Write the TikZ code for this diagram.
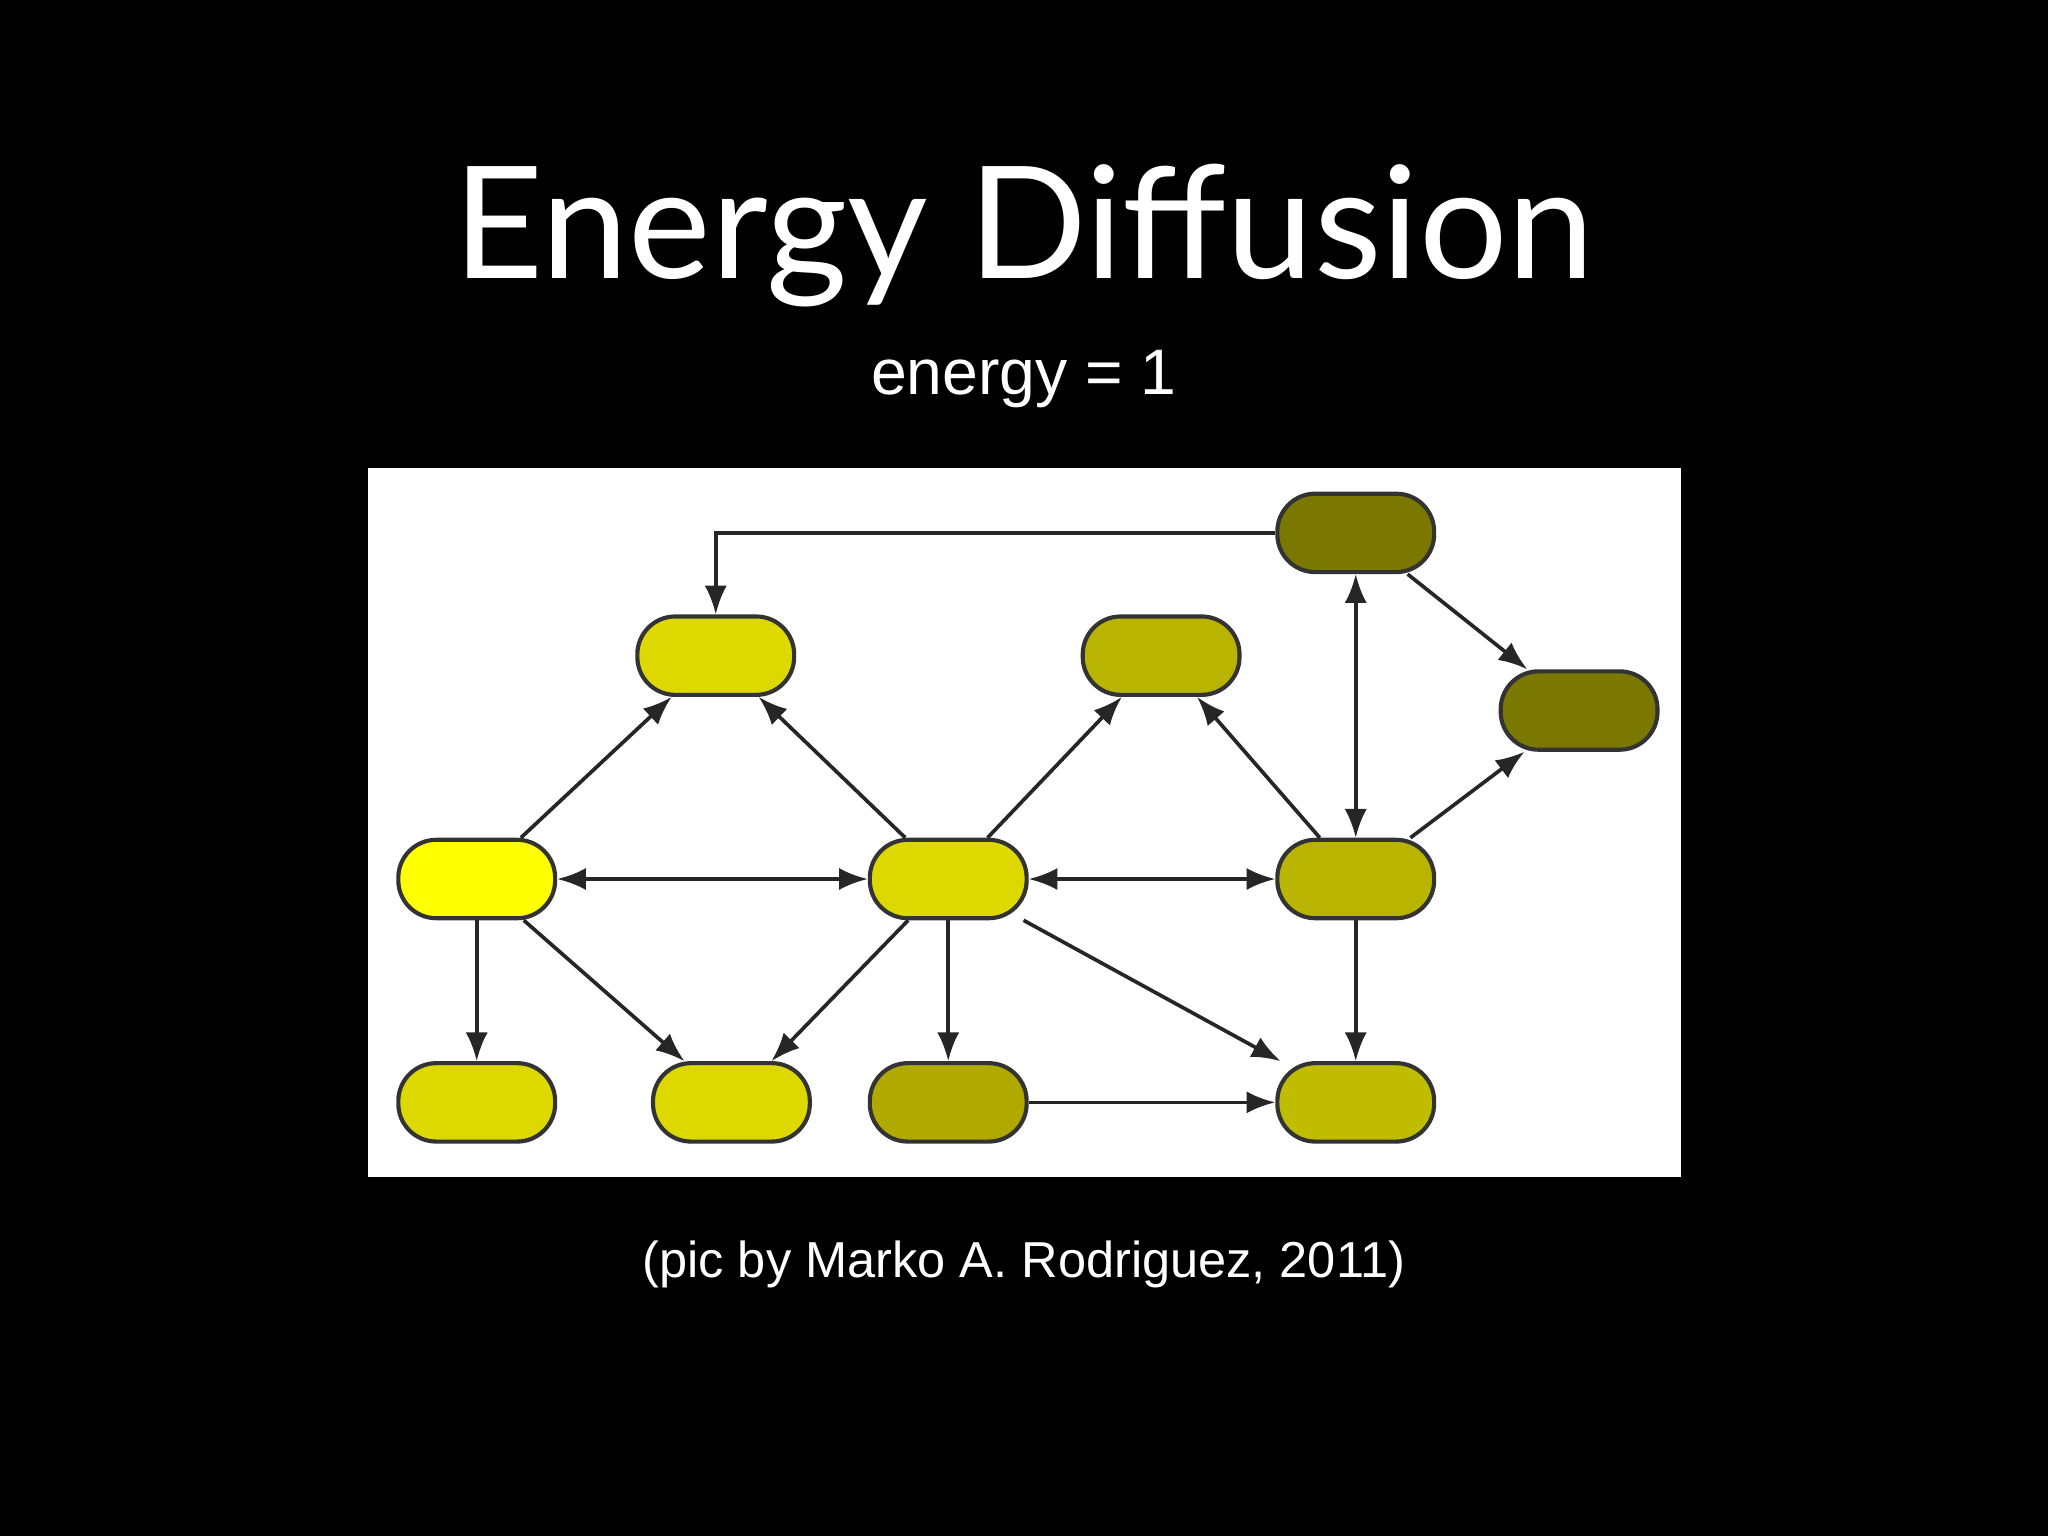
\documentclass[tikz,border=0pt]{standalone}
\usepackage{fontspec}
\setmainfont{Liberation Sans}
\newfontfamily\titlefont{Lato}
\usetikzlibrary{arrows.meta}
\definecolor{cA}{HTML}{7A7800}
\definecolor{cB}{HTML}{DCD800}
\definecolor{cC}{HTML}{B8B400}
\definecolor{cE}{HTML}{FFFF00}
\definecolor{cJ}{HTML}{B0AA00}
\definecolor{cK}{HTML}{C0BC00}
\tikzset{
 nd/.style={draw=black!80, line width=0.9pt, rounded corners=0.29cm, minimum width=1.2cm, minimum height=0.6cm, inner sep=0pt},
 ar/.style={line width=0.8pt, black!85, -{Latex[length=0.22cm,width=0.17cm]}},
 dar/.style={line width=0.8pt, black!85, {Latex[length=0.22cm,width=0.17cm]}-{Latex[length=0.22cm,width=0.17cm]}}
}
\begin{document}
\begin{tikzpicture}[x=0.01cm,y=-0.01cm]
\fill[black] (0,0) rectangle (1568,1176);
\useasboundingbox (0,0) rectangle (1568,1176);
\node[white,font=\titlefont\fontsize{34}{40}\selectfont] (title) at (784,180) {Energy Diffusion};
\node[white,font=\fontsize{14}{17}\selectfont] (sub) at (784,290) {energy = 1};
\node[white,font=\fontsize{11}{14}\selectfont] (cap) at (784,968) {(pic by Marko A. Rodriguez, 2011)};
\fill[white] (282,358) rectangle (1287,901);
\node[nd,fill=cA] (A) at (1038,408) {};
\node[nd,fill=cB] (B) at (548,502) {};
\node[nd,fill=cC] (C) at (889,502) {};
\node[nd,fill=cA] (D) at (1209,544) {};
\node[nd,fill=cE] (E) at (365,673) {};
\node[nd,fill=cB] (F) at (726,673) {};
\node[nd,fill=cC] (G) at (1038,673) {};
\node[nd,fill=cB] (H) at (365,844) {};
\node[nd,fill=cB] (I) at (560,844) {};
\node[nd,fill=cJ] (J) at (726,844) {};
\node[nd,fill=cK] (K) at (1038,844) {};
\draw[ar] (A.west) -| (B.north);
\draw[dar] (A) -- (G);
\draw[ar] (A) -- (D);
\draw[ar] (G) -- (D);
\draw[ar] (G) -- (C);
\draw[ar] (F) -- (C);
\draw[ar] (F) -- (B);
\draw[ar] (E) -- (B);
\draw[dar] (E) -- (F);
\draw[dar] (F) -- (G);
\draw[ar] (E) -- (H);
\draw[ar] (E) -- (I);
\draw[ar] (F) -- (I);
\draw[ar] (F) -- (J);
\draw[ar] (F) -- (K);
\draw[ar] (G) -- (K);
\draw[ar] (J) -- (K);
\end{tikzpicture}
\end{document}
